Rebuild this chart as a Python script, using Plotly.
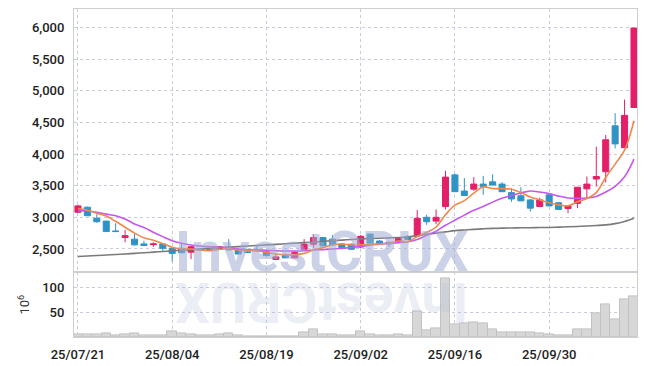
import plotly.graph_objects as go

dates = ["25/07/21","25/07/22","25/07/23","25/07/24","25/07/25",
         "25/07/28","25/07/29","25/07/30","25/07/31","25/08/01",
         "25/08/04","25/08/05","25/08/06","25/08/07","25/08/08",
         "25/08/11","25/08/12","25/08/13","25/08/14","25/08/18",
         "25/08/19","25/08/20","25/08/21","25/08/22","25/08/25",
         "25/08/26","25/08/27","25/08/28","25/08/29","25/09/01",
         "25/09/02","25/09/03","25/09/04","25/09/05","25/09/08",
         "25/09/09","25/09/10","25/09/11","25/09/12","25/09/15",
         "25/09/16","25/09/17","25/09/18","25/09/19","25/09/22",
         "25/09/23","25/09/24","25/09/25","25/09/26","25/09/29",
         "25/09/30","25/10/01","25/10/02","25/10/10","25/10/13",
         "25/10/14","25/10/15","25/10/16","25/10/17","25/10/20"]

open_ = [3080,3160,2985,2940,2785,2680,2655,2580,2568,2580,
         2510,2510,2450,2500,2500,2495,2535,2485,2455,2490,
         2455,2335,2395,2360,2495,2575,2680,2655,2580,2575,
         2530,2735,2625,2605,2615,2695,2705,3000,2940,3170,
         3670,3415,3445,3525,3560,3525,3390,3340,3275,3170,
         3355,3230,3140,3220,3450,3605,3720,4445,4100,4735]
high = [3200,3170,3050,2945,2905,2800,2735,2630,2605,2590,
        2520,2590,2545,2510,2510,2545,2655,2490,2490,2560,
        2480,2415,2430,2460,2655,2730,2690,2720,2590,2585,
        2720,2740,2640,2620,2680,2720,3115,3040,3125,3735,
        3690,3620,3635,3655,3680,3555,3460,3475,3290,3310,
        3360,3240,3190,3480,3645,4115,4300,4645,4860,5990]
low = [3070,3020,2915,2770,2770,2605,2555,2545,2535,2470,
       2300,2435,2340,2470,2470,2490,2480,2415,2435,2460,
       2390,2325,2355,2355,2485,2520,2545,2560,2515,2490,
       2510,2580,2570,2535,2605,2640,2700,2880,2890,3125,
       3400,3340,3420,3355,3505,3400,3245,3255,3090,3160,
       3175,3120,3065,3145,3300,3485,3550,4090,4100,4735]
close = [3180,3025,2930,2775,2775,2710,2565,2555,2580,2510,
         2430,2440,2535,2480,2480,2535,2485,2420,2445,2470,
         2395,2375,2360,2445,2575,2680,2550,2565,2520,2495,
         2700,2590,2590,2580,2670,2650,2985,2930,3000,3635,
         3405,3345,3525,3485,3510,3405,3290,3260,3145,3275,
         3180,3125,3180,3475,3525,3645,4225,4160,4610,5990]

ma_short = [3140,3115,3065,3020,2937,2843,2751,2676,2637,2584,
            2528,2503,2499,2479,2473,2494,2503,2480,2473,2471,
            2443,2421,2409,2409,2430,2487,2522,2563,2578,2562,
            2566,2574,2579,2591,2626,2616,2695,2763,2847,3040,
            3191,3263,3382,3479,3454,3454,3443,3390,3322,3275,
            3230,3197,3181,3247,3297,3390,3630,3840,4060,4526]
ma_mid = [3105,3100,3080,3050,3025,2975,2895,2840,2765,2695,
          2630,2590,2562,2546,2535,2528,2510,2497,2488,2483,
          2478,2472,2468,2467,2472,2483,2490,2499,2510,2522,
          2540,2560,2575,2590,2600,2615,2650,2715,2780,2875,
          2955,3035,3110,3170,3240,3300,3345,3385,3415,3400,
          3375,3335,3305,3300,3305,3330,3400,3490,3640,3920]
ma_long = [2380,2388,2396,2404,2412,2420,2430,2440,2450,2460,
           2470,2480,2490,2500,2510,2520,2528,2537,2546,2555,
           2565,2573,2582,2591,2600,2610,2620,2630,2640,2650,
           2660,2665,2670,2675,2680,2690,2710,2730,2750,2770,
           2790,2800,2810,2818,2825,2830,2832,2834,2836,2838,
           2840,2845,2850,2856,2862,2870,2880,2900,2935,2985]

volume = [4.6,4.6,4.6,6.6,3.2,4.6,6.6,3.2,2.6,3.2,
          10.6,6.6,4.6,3.2,3.2,4.6,6.6,3.2,2.0,1.5,
          1.5,1.5,1.0,1.5,10.0,14.6,4.6,4.6,2.6,2.6,
          10.6,4.6,2.6,2.6,4.6,2.6,52.0,12.6,18.0,118.0,
          24.6,28.0,30.0,28.0,14.6,9.3,9.3,10.0,9.0,6.6,
          4.6,2.6,4.0,16.0,16.0,48.0,66.0,36.0,76.0,82.6]

tick_labels = ["25/07/21","25/08/04","25/08/19","25/09/02","25/09/16","25/09/30"]
price_ticks = [2500,3000,3500,4000,4500,5000,5500,6000]
vol_ticks = [50,100]

# trading-day positions on the axis (one slot per session)
pos = list(range(len(dates)))
tick_pos = [dates.index(d) for d in tick_labels]

RED = "#e41f69"
BLUE = "#2f93c6"
FONT = "Roboto, sans-serif"

fig = go.Figure()

fig.add_trace(go.Bar(x=pos, y=volume, xaxis="x2", yaxis="y2", width=1.0,
                     marker=dict(color="#d7d7d7", line=dict(color="#c2c2c2", width=1)),
                     hoverinfo="skip", showlegend=False))

fig.add_trace(go.Candlestick(x=pos, open=open_, high=high, low=low, close=close,
                             increasing=dict(line=dict(color=RED, width=1), fillcolor=RED),
                             decreasing=dict(line=dict(color=BLUE, width=1), fillcolor=BLUE),
                             whiskerwidth=0, showlegend=False, hoverinfo="skip"))

fig.add_trace(go.Scatter(x=pos, y=ma_long, mode="lines",
                         line=dict(color="#7a7a7a", width=1.6, shape="spline"),
                         showlegend=False, hoverinfo="skip"))
fig.add_trace(go.Scatter(x=pos, y=ma_mid, mode="lines",
                         line=dict(color="#c657ee", width=1.6, shape="spline"),
                         showlegend=False, hoverinfo="skip"))
fig.add_trace(go.Scatter(x=pos, y=ma_short, mode="lines",
                         line=dict(color="#f0884e", width=1.6, shape="spline"),
                         showlegend=False, hoverinfo="skip"))

split = 0.197
grid = dict(showgrid=True, gridcolor="#c9cadb", griddash="dot", gridwidth=1)
tickfont = dict(family=FONT, size=13, color="#222222", weight=500)

fig.update_layout(
    template="none",
    width=647, height=366,
    margin=dict(l=74, r=10, t=9, b=29),
    paper_bgcolor="white", plot_bgcolor="white",
    bargap=0, boxgap=0.2, boxgroupgap=0.2,
    hovermode=False,
    font=dict(family=FONT, size=13, color="#333333"),
    xaxis=dict(domain=[0, 1], anchor="y", range=[-0.42, 59.32], automargin=False,
               rangeslider=dict(visible=False), showticklabels=False,
               tickvals=tick_pos, ticks="", showline=True, mirror=True, linecolor="#cfcfcf",
               zeroline=False, **grid),
    xaxis2=dict(domain=[0, 1], anchor="y2", range=[-0.42, 59.32], automargin=False,
                tickvals=tick_pos, ticktext=tick_labels, ticks="",
                ticklabelstandoff=5, showline=True, mirror=True, linecolor="#cfcfcf",
                tickfont=tickfont, zeroline=False, **grid),
    yaxis=dict(domain=[split, 1], anchor="x", range=[2130, 6291], automargin=False,
               tickvals=price_ticks, tickformat=",d", ticks="", ticklabelstandoff=6,
               showline=True, mirror=True, linecolor="#cfcfcf", zeroline=False,
               tickfont=tickfont, **grid),
    yaxis2=dict(domain=[0, split], anchor="x2", range=[0, 130], automargin=False,
                tickvals=vol_ticks, ticks="", ticklabelstandoff=6,
                showline=True, mirror=True, linecolor="#cfcfcf", zeroline=False,
                tickfont=tickfont,
                title=dict(text="10<sup>6</sup>", font=dict(family=FONT, size=13, color="#333333"), standoff=9),
                **grid),
)

fig.add_annotation(text="<b>InvestCRUX</b>", xref="paper", yref="paper",
                   x=0.44, y=0.258, xanchor="center", yanchor="middle", showarrow=False,
                   font=dict(family=FONT, size=55, color="rgba(160,172,210,0.55)"))
fig.add_annotation(text="<b>InvestCRUX</b>", xref="paper", yref="paper",
                   x=0.44, y=0.105, xanchor="center", yanchor="middle", showarrow=False, textangle=180,
                   font=dict(family=FONT, size=55, color="rgba(180,188,218,0.25)"))

fig.write_html("out.html", config={"displayModeBar": False},
               post_script="document.body.style.margin='0';document.body.style.overflow='hidden';")
